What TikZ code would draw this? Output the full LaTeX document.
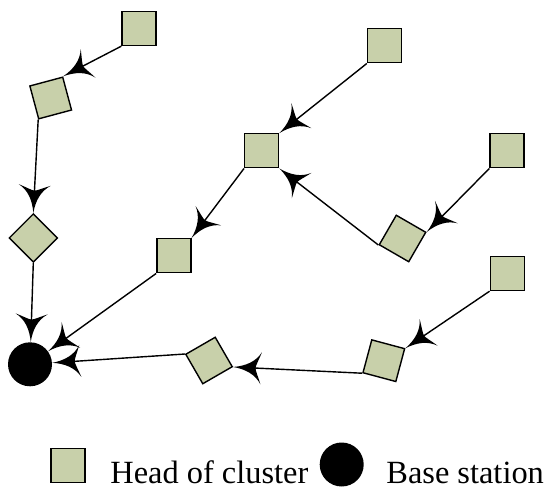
\documentclass[tikz,border=0pt]{standalone}
\usepackage{fontspec}
\setmainfont{Liberation Serif}
\usepackage{pgf,tikz}
\usetikzlibrary{arrows.meta}
\definecolor{headgreen}{RGB}{200,208,170}
% swept arrow head with concave sides
\pgfdeclarearrow{
	name = Swept,
	parameters = {\the\pgfarrowlength,\the\pgfarrowwidth},
	setup code = {
		\pgfarrowssettipend{0pt}
		\pgfarrowssetbackend{-\pgfarrowlength}
		\pgfarrowssetlineend{-0.75\pgfarrowlength}
		\pgfarrowssavethe\pgfarrowlength
		\pgfarrowssavethe\pgfarrowwidth
	},
	drawing code = {
		\pgfpathmoveto{\pgfqpoint{0pt}{0pt}}
		\pgfpathcurveto{\pgfqpoint{-0.45\pgfarrowlength}{0.05\pgfarrowwidth}}{\pgfqpoint{-0.8\pgfarrowlength}{0.2\pgfarrowwidth}}{\pgfqpoint{-\pgfarrowlength}{0.5\pgfarrowwidth}}
		\pgfpathcurveto{\pgfqpoint{-0.9\pgfarrowlength}{0.25\pgfarrowwidth}}{\pgfqpoint{-0.8\pgfarrowlength}{0.08\pgfarrowwidth}}{\pgfqpoint{-0.8\pgfarrowlength}{0pt}}
		\pgfpathcurveto{\pgfqpoint{-0.8\pgfarrowlength}{-0.08\pgfarrowwidth}}{\pgfqpoint{-0.9\pgfarrowlength}{-0.25\pgfarrowwidth}}{\pgfqpoint{-\pgfarrowlength}{-0.5\pgfarrowwidth}}
		\pgfpathcurveto{\pgfqpoint{-0.8\pgfarrowlength}{-0.2\pgfarrowwidth}}{\pgfqpoint{-0.45\pgfarrowlength}{-0.05\pgfarrowwidth}}{\pgfqpoint{0pt}{0pt}}
		\pgfpathclose
		\pgfusepathqfill
	},
	defaults = {length = 14pt, width = 16pt}
}
\tikzstyle{head} = [draw=black, fill=headgreen, line width=0.7pt, rectangle, minimum size=17pt, inner sep=0pt]
\tikzstyle{station} = [fill=black, circle, minimum size=22pt, inner sep=0pt]
\tikzstyle{link} = [line width=0.7pt, -{Swept[length=14pt, width=16pt]}]
\tikzstyle{legendtext} = [anchor=base west, inner sep=0pt, font=\rmfamily\fontsize{16.2pt}{19pt}\selectfont]

\begin{document}
\begin{tikzpicture}[x=0.5pt, y=-0.5pt]
	\useasboundingbox (0,0) rectangle (544,490);
	% nodes
	\node[head] (n1) at (139,28.5) {};
	\node[head, rotate=15] (n2) at (50.7,98) {};
	\node[head, rotate=45] (n3) at (33.3,238) {};
	\node[head] (n4) at (173.8,255.8) {};
	\node[head] (n5) at (384.5,45.8) {};
	\node[head] (n6) at (261.7,150.8) {};
	\node[head] (n7) at (507,150.8) {};
	\node[head, rotate=-30] (n8) at (402.5,238.5) {};
	\node[head] (n9) at (507.3,273.5) {};
	\node[head, rotate=30] (n10) at (209,360.5) {};
	\node[head, rotate=-15] (n11) at (383.8,360.7) {};
	\node[station] (bs) at (30,364.3) {};
	% links
	\draw[link] (n1.south west) -- (n2.north east);
	\draw[link] (n2.south west) -- (n3.north east);
	\draw[link] (n3.south west) -- (bs);
	\draw[link] (n5.south west) -- (n6.north east);
	\draw[link] (n6.south west) -- (n4.north east);
	\draw[link] (n4.south west) -- (bs);
	\draw[link] (n7.south west) -- (n8.north east);
	\draw[link] (n8.south west) -- (n6.south east);
	\draw[link] (n9.south west) -- (n11.north east);
	\draw[link] (n11.south west) -- (n10.south east);
	\draw[link] (n10.north west) -- (bs);
	% legend
	\node[head] (keyhead) at (68,465.5) {};
	\node[legendtext] (keyheadtext) at (110,483.5) {Head of cluster};
	\node[station] (keybs) at (341.7,464.5) {};
	\node[legendtext] (keybstext) at (386,483.5) {Base station};
\end{tikzpicture}
\end{document}
